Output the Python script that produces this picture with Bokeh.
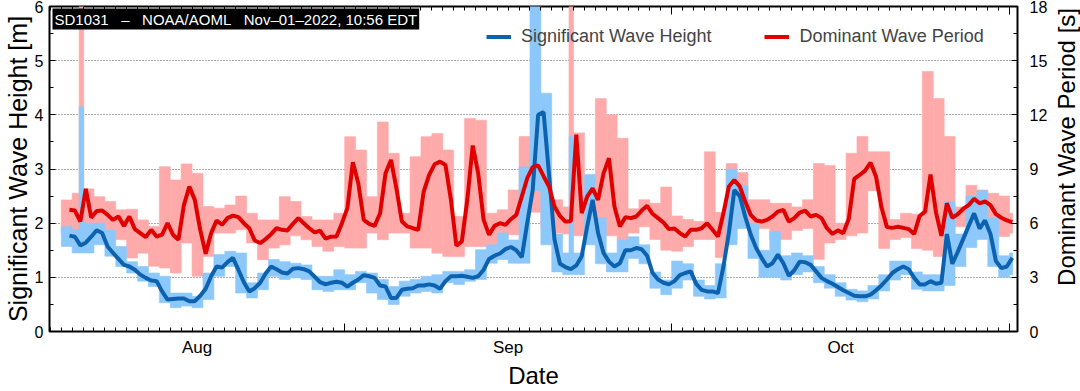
import math
import pandas as pd
from bokeh.plotting import figure
from bokeh.layouts import row
from bokeh.models import (Range1d, LinearAxis, FixedTicker, Legend, LegendItem,
                          Label, CustomJSTickFormatter, Grid, ColumnDataSource)
from bokeh.embed import file_html
from bokeh.resources import INLINE

# ---------------- data ----------------
title_text = "SD1031\u00a0\u00a0\u00a0\u2013\u00a0\u00a0\u00a0NOAA/AOML\u00a0\u00a0\u00a0Nov\u201301\u20132022, 10:56 EDT"
series_names = ["Significant Wave Height", "Dominant Wave Period"]
axis_titles = ["Significant Wave Height [m]", "Dominant Wave Period [s]", "Date"]
month_labels = ["Aug", "Sep", "Oct"]
month_edges = ["2022-08-01", "2022-09-01", "2022-10-01", "2022-11-01"]
view_start = "2022-08-04 22:05"
view_end = "2022-11-01 17:30"

# 12-hourly smoothed series
line_start = "2022-08-06 18:00"
wave_height = [
    1.77, 1.75, 1.59, 1.64, 1.75, 1.87, 1.82, 1.57, 1.45, 1.34,
    1.23, 1.20, 1.14, 1.05, 0.99, 0.94, 0.93, 0.74, 0.59, 0.60,
    0.61, 0.61, 0.56, 0.56, 0.66, 0.79, 1.02, 1.20, 1.18, 1.28,
    1.36, 1.14, 0.91, 0.74, 0.80, 0.90, 1.07, 1.20, 1.15, 1.09,
    1.07, 1.16,
    1.17, 1.15, 1.11, 1.01, 0.91, 0.87, 0.90, 0.92, 0.90, 0.83,
    0.90, 0.96, 1.04, 1.02, 0.99, 0.85, 0.83, 0.62, 0.62, 0.77,
    0.79, 0.80, 0.85, 0.85, 0.87, 0.85, 0.79, 0.93, 1.02, 1.02,
    1.03, 1.01, 0.99, 1.02, 1.14, 1.34, 1.40, 1.44, 1.52, 1.56,
    1.50, 1.37, 2.00, 2.61, 4.00,
    4.05, 2.90, 1.70, 1.25, 1.19, 1.15, 1.22, 1.39, 1.94, 2.43,
    1.82, 1.45, 1.29, 1.20, 1.26, 1.50, 1.50, 1.54, 1.52, 1.40,
    1.08, 0.96, 0.90, 0.87, 0.93, 1.04, 1.08, 1.11, 0.88, 0.77,
    0.74, 0.74, 0.71, 1.20, 1.82, 2.61, 2.50, 2.12, 1.79, 1.54,
    1.36, 1.20, 1.26, 1.42,
    1.26, 1.03, 1.13, 1.29, 1.28, 1.23, 1.11, 0.99, 0.93, 0.88,
    0.82, 0.76, 0.71, 0.66, 0.65, 0.65, 0.68, 0.76, 0.85, 0.96,
    1.08, 1.15, 1.20, 1.15, 0.99, 0.87, 0.87, 0.93, 0.88, 0.90,
    1.80, 1.25, 1.47, 1.71, 1.95, 2.18, 1.90, 2.05, 1.80, 1.30,
    1.17, 1.20, 1.36,
]
wave_period = [
    6.74, 6.70, 6.09, 7.90, 6.30, 6.68, 6.70, 6.46, 6.18, 6.37,
    5.85, 6.37, 5.67, 5.45, 5.23, 5.63, 5.26, 5.36, 6.00, 5.36,
    5.08, 7.00, 8.03, 7.29, 5.63, 4.31, 5.45, 6.15, 5.91, 6.28,
    6.42, 6.33, 6.00, 5.72, 5.04, 4.90, 5.12, 5.39, 5.72, 5.63,
    5.60, 5.96,
    6.28, 6.00, 5.72, 5.49, 5.58, 5.14, 5.25, 5.26, 6.00, 6.83,
    9.37, 8.21, 6.18, 5.96, 5.85, 6.55, 8.76, 9.50, 7.93, 6.09,
    5.82, 5.72, 5.63, 7.75, 8.67, 9.26, 9.41, 9.22, 7.29, 4.75,
    4.99, 7.29, 10.30, 8.76, 6.18, 5.36, 5.85, 6.00, 5.91, 6.22,
    6.46, 7.47, 8.49, 9.10, 9.20,
    8.60, 8.03, 6.92, 6.40, 6.09, 6.10, 10.90, 6.55, 7.47, 7.93,
    7.29, 8.76, 9.60, 6.92, 5.82, 6.33, 6.28, 6.37, 6.70, 6.96,
    6.52, 6.28, 6.04, 5.67, 5.71, 5.45, 5.26, 5.63, 5.63, 5.72,
    6.00, 5.63, 5.26, 6.55, 8.03, 8.39, 8.03, 7.20, 6.46, 6.15,
    6.09, 6.18, 6.37, 6.64,
    6.74, 6.09, 6.28, 6.59, 6.70, 6.37, 6.46, 6.28, 5.72, 5.41,
    5.60, 5.45, 6.24, 8.45, 8.67, 8.91, 9.35, 8.58, 6.88, 5.78,
    5.74, 5.80, 5.74, 5.67, 5.40, 6.40, 6.64, 8.70, 6.60, 5.30,
    7.10, 6.30, 6.50, 6.80, 7.00, 7.35, 7.10, 7.20, 7.00, 6.50,
    6.30, 6.15, 6.05,
]

# daily range of the raw records
band_start = "2022-08-06"
height_low = [
    1.57, 1.45, 1.45, 1.60, 1.39, 1.20, 1.08, 0.93, 0.83, 0.53,
    0.44, 0.47, 0.44, 0.59, 1.02, 1.20, 0.71, 0.62, 0.77, 1.02,
    0.96, 0.99, 0.96, 0.77, 0.74, 0.77,
    0.77, 0.90, 0.71, 0.59, 0.50, 0.65, 0.71, 0.74, 0.71, 0.90,
    0.87, 0.93, 0.96, 1.26, 1.33, 1.26, 1.26, 2.60, 1.60, 1.10,
    1.05, 1.05, 1.60, 1.25, 1.10, 1.10, 1.35, 1.25, 0.80, 0.68,
    0.80, 0.95, 0.65, 0.60, 0.62, 1.60, 1.90, 1.35, 1.00, 1.00,
    0.95, 1.05, 1.10, 0.90, 0.80, 0.65, 0.58, 0.55, 0.60, 0.75,
    0.95, 1.05, 0.78, 0.75, 0.75, 0.85, 1.20, 1.55, 1.70, 1.20,
    1.00, 1.05,
]
height_high = [
    1.94, 1.88, 2.00, 2.00, 1.88, 1.57, 1.29, 1.20, 1.08, 1.02,
    0.71, 0.71, 0.65, 1.08, 1.42, 1.48, 1.45, 0.90, 1.08, 1.33,
    1.29, 1.26, 1.23, 1.02, 1.02, 1.14,
    1.05, 1.11, 1.08, 0.96, 0.83, 0.93, 0.96, 1.02, 1.05, 1.11,
    1.11, 1.14, 1.51, 1.60, 1.82, 1.69, 3.04, 6.10, 4.40, 1.80,
    1.45, 1.45, 2.90, 2.10, 1.45, 1.70, 1.75, 1.60, 1.10, 0.95,
    1.30, 1.25, 0.95, 0.85, 1.25, 3.00, 2.70, 2.00, 1.50, 1.85,
    1.40, 1.45, 1.40, 1.20, 1.05, 0.90, 0.78, 0.75, 0.85, 1.05,
    1.30, 1.30, 1.10, 1.05, 1.05, 2.40, 1.80, 2.50, 2.60, 2.10,
    1.40, 1.45,
]
period_low = [
    5.45, 5.45, 5.63, 5.45, 5.63, 5.08, 4.07, 4.34, 3.61, 3.52,
    3.24, 4.90, 3.06, 4.16, 5.45, 5.45, 5.63, 4.90, 3.98, 4.62,
    4.80, 5.30, 5.08, 4.71, 4.44, 4.71,
    4.62, 4.62, 5.45, 5.08, 5.45, 5.45, 4.62, 4.62, 4.34, 4.16,
    4.16, 4.71, 4.71, 4.71, 5.08, 5.36, 6.30, 6.60, 5.70, 5.45,
    5.40, 5.30, 5.10, 5.40, 5.30, 5.10, 5.45, 5.80, 5.10, 4.50,
    4.45, 4.70, 5.10, 5.10, 4.10, 5.10, 6.30, 5.60, 5.70, 5.10,
    5.10, 5.60, 5.70, 4.00, 4.90, 5.10, 5.30, 5.45, 7.80, 4.60,
    5.10, 5.20, 4.60, 4.50, 4.15, 5.00, 5.80, 6.55, 6.20, 5.63,
    5.26, 5.45,
]
period_high = [
    7.29, 7.66, 7.90, 7.47, 7.20, 6.74, 6.77, 6.18, 5.82, 9.13,
    8.39, 9.28, 8.76, 6.92, 6.83, 7.01, 7.50, 6.55, 6.18, 6.18,
    7.47, 7.20, 6.37, 6.18, 6.18, 6.55,
    10.79, 10.05, 7.47, 11.61, 9.87, 6.55, 9.68, 10.79, 10.97, 10.05,
    6.37, 11.80, 11.70, 6.55, 6.74, 7.84, 10.80, 10.50, 8.80, 7.30,
    6.90, 11.00, 8.40, 12.90, 12.00, 10.70, 6.80, 7.30, 7.10, 8.00,
    6.40, 6.20, 6.10, 9.95, 6.60, 9.30, 8.80, 7.30, 7.30, 7.10,
    7.10, 6.90, 7.30, 9.30, 9.20, 6.00, 9.87, 10.80, 9.96, 9.96,
    6.20, 6.55, 6.50, 14.40, 12.90, 10.80, 6.90, 8.10, 7.84, 7.66,
    7.50, 6.55,
]

# short isolated spikes in the raw records
spike_times = ["2022-08-07 20:24", "2022-09-21 19:00"]
spike_height_low = [1.50, 1.10]
spike_height_high = [4.15, 3.60]
spike_period_low = [6.00, 6.00]
spike_period_high = [18.0, 18.0]

# ---------------- styling ----------------
FONT = "Liberation Sans"
BLUE_LINE = "#0d62b0"
BLUE_BAND = "#8dc8fb"
RED_LINE = "#e00000"
RED_BAND = "#ffaaaa"
W, H = 1050, 391          # main plot
SIDE_W = 30               # strip holding the right-hand axis title
BL, BR, BT, BB = 44, 32, 6, 59
FW, FH = W - BL - BR, H - BT - BB


def ms(t):
    return pd.Timestamp(t).value / 1e6


line_t = pd.date_range(line_start, periods=len(wave_height), freq="12h")
band_t = pd.date_range(band_start, periods=len(height_low), freq="D")
data_end = line_t[-1] + pd.Timedelta(hours=1)
band_r = pd.DatetimeIndex([min(t + pd.Timedelta(days=1), data_end) for t in band_t])
spike_t = pd.DatetimeIndex(spike_times)
spike_w = pd.Timedelta(hours=10)

x0, x1 = ms(view_start), ms(view_end)
edges = [ms(e) for e in month_edges]
centers = [(max(edges[i], x0) + min(edges[i + 1], x1)) / 2 for i in range(len(month_labels))]
boundaries = [e for e in edges if x0 < e < x1]
days = [ms(d) for d in pd.date_range("2022-08-05", "2022-11-01", freq="D")]

p = figure(width=W, height=H, x_range=Range1d(x0, x1), y_range=Range1d(0, 6),
           x_axis_location=None, y_axis_location=None, toolbar_location=None,
           output_backend="svg", min_border_left=BL, min_border_right=BR,
           min_border_top=BT, min_border_bottom=BB,
           outline_line_color="black", outline_line_width=2)
p.extra_y_ranges = {"period": Range1d(0, 18)}
p.grid.visible = False

band_src = ColumnDataSource(dict(left=band_t, right=band_r, hlo=height_low, hhi=height_high,
                                 tlo=period_low, thi=period_high))
spike_src = ColumnDataSource(dict(left=spike_t - spike_w / 2, right=spike_t + spike_w / 2,
                                  hlo=spike_height_low, hhi=spike_height_high,
                                  tlo=spike_period_low, thi=spike_period_high))

p.add_layout(Grid(dimension=1, ticker=FixedTicker(ticks=[1, 2, 3, 4, 5]),
                  grid_line_color="#555555", grid_line_dash="1 2", grid_line_width=1))

for src in (band_src, spike_src):
    p.quad(left="left", right="right", bottom="tlo", top="thi", source=src,
           y_range_name="period", fill_color=RED_BAND, line_color=RED_BAND, line_width=0.6)
for src in (band_src, spike_src):
    p.quad(left="left", right="right", bottom="hlo", top="hhi", source=src,
           fill_color=BLUE_BAND, line_color=BLUE_BAND, line_width=0.6)

blue = p.line(line_t, wave_height, line_color=BLUE_LINE, line_width=4)
red = p.line(line_t, wave_period, y_range_name="period", line_color=RED_LINE, line_width=4)


def style(ax, tick_in=6, minor_in=4, label_size="16px"):
    ax.axis_line_color = None
    ax.major_tick_line_color = "black"
    ax.minor_tick_line_color = "black"
    ax.major_tick_in = tick_in
    ax.major_tick_out = 0
    ax.minor_tick_in = minor_in
    ax.minor_tick_out = 0
    ax.major_label_text_font = FONT
    ax.major_label_text_font_size = label_size
    ax.major_label_text_color = "black"
    ax.axis_label_text_font = FONT
    ax.axis_label_text_font_size = "25px"
    ax.axis_label_text_font_style = "normal"
    ax.axis_label_text_color = "black"


left = LinearAxis(ticker=FixedTicker(ticks=list(range(0, 7)),
                                     minor_ticks=[i + 0.5 for i in range(6)]),
                  axis_label=axis_titles[0])
style(left)
left.major_label_standoff = 6
left.axis_label_standoff = 0
p.add_layout(left, "left")

right = LinearAxis(y_range_name="period",
                   ticker=FixedTicker(ticks=list(range(0, 19, 3)),
                                      minor_ticks=[i * 3 + 1.5 for i in range(6)]))
style(right)
right.major_label_standoff = 12
p.add_layout(right, "right")

blank = CustomJSTickFormatter(code="return ''")
for side_name in ("below", "above"):
    ax = LinearAxis(ticker=FixedTicker(ticks=boundaries, minor_ticks=days), formatter=blank)
    style(ax, tick_in=8, minor_in=4)
    ax.major_label_text_font_size = "1px"
    ax.major_label_standoff = 0
    p.add_layout(ax, side_name)

months = LinearAxis(ticker=FixedTicker(ticks=centers, minor_ticks=[]),
                    major_label_overrides={c: m for c, m in zip(centers, month_labels)},
                    axis_label=axis_titles[2])
style(months, tick_in=0, minor_in=0, label_size="17px")
months.axis_label_text_font_size = "24px"
months.major_tick_line_color = None
months.minor_tick_line_color = None
months.major_label_standoff = 6
months.axis_label_standoff = 2
p.add_layout(months, "below")

legend = Legend(items=[LegendItem(label=series_names[0], renderers=[blue]),
                       LegendItem(label=series_names[1], renderers=[red])],
                orientation="horizontal", location=(437, FH - 42),
                background_fill_alpha=0, border_line_color=None,
                label_text_font=FONT, label_text_font_size="18px",
                glyph_width=25, glyph_height=21, label_standoff=10, spacing=53,
                padding=0, margin=0)
p.add_layout(legend)

p.add_layout(Label(x=x0, y=6, text=title_text, text_font=FONT, text_font_size="15px",
                   text_color="white", text_align="left", text_baseline="top",
                   background_fill_color="black", background_fill_alpha=1.0,
                   padding=2, x_offset=3, y_offset=-2))

# narrow strip to the right carrying the right axis title (reads bottom to top)
side = figure(width=SIDE_W, height=H, x_range=Range1d(0, SIDE_W), y_range=Range1d(0, H),
              x_axis_location=None, y_axis_location=None, toolbar_location=None,
              output_backend="svg", min_border=0, outline_line_color=None)
side.grid.visible = False
side.add_layout(Label(x=16, y=H - (BT + FH / 2), text=axis_titles[1], angle=math.pi / 2,
                      text_align="center", text_baseline="middle", text_font=FONT,
                      text_font_size="24px", text_color="black"))

open("out.html", "w").write(file_html(row(p, side), INLINE))
